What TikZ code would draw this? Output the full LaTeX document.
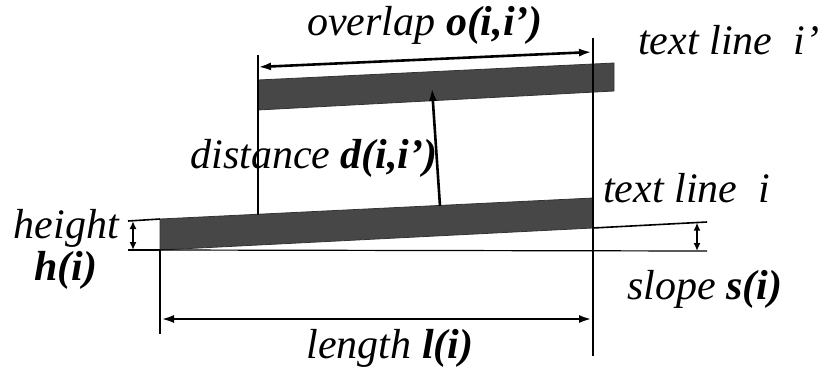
\documentclass[tikz,border=0pt]{standalone}
\usepackage{fontspec}
\setmainfont{Liberation Serif}
\usetikzlibrary{arrows.meta,positioning,calc}

\begin{document}
\begin{tikzpicture}[
  x=1pt, y=-1pt,
  >={Latex[length=13pt,width=8pt]},
  lbl/.style={font=\fontsize{42}{44}\selectfont\itshape, inner sep=0pt},
  bar/.style={fill=black!72, draw=black!80, line width=0.8pt},
  tick/.style={line width=1.6pt},
  dim/.style={<->, line width=2.6pt},
  small/.style={<->, line width=1.6pt, >={Latex[length=8pt,width=7pt]}},
]
\useasboundingbox (0,0) rectangle (836,368);
\def\fn#1{\textbf{#1}}

% ---- text lines --------------------------------------------------------------
\coordinate (lowTL) at (160,219); \coordinate (lowTR) at (593,198);
\coordinate (lowBR) at (593,228); \coordinate (lowBL) at (160,250);
\coordinate (upTL) at (258,80);   \coordinate (upTR) at (614,63);
\coordinate (upBR) at (614,91);   \coordinate (upBL) at (258,110);
\fill[bar] (lowTL) -- (lowTR) -- (lowBR) -- (lowBL) -- cycle;
\fill[bar] (upTL) -- (upTR) -- (upBR) -- (upBL) -- cycle;

% ---- extension lines ---------------------------------------------------------
\coordinate (ovL) at (258,67);  \coordinate (ovR) at (592,52);
\coordinate (lenL) at (161,319); \coordinate (lenR) at (592,319);
\draw[tick] (258,55) -- (258,215);
\draw[tick] (593,38) -- (593,356);
\draw[tick] (lowBL) -- (160,334);

% ---- overlap -----------------------------------------------------------------
\draw[dim] (ovL) -- (ovR);
\node[lbl] (overlap) at (425,25) {overlap \fn{o(i,i’)}};

% ---- distance ----------------------------------------------------------------
\coordinate (dB) at (440,206); \coordinate (dT) at (432,88);
\draw[line width=2.6pt, ->] (dB) -- (dT);
\node[lbl] (distance) at (314,158) {distance \fn{d(i,i’)}};

% ---- length ------------------------------------------------------------------
\draw[dim] (lenL) -- (lenR);
\node[lbl] (length) at (390,348) {length \fn{l(i)}};

% ---- height ------------------------------------------------------------------
\coordinate (hT) at (133,221); \coordinate (hB) at (133,250);
\draw[tick] (128,221) -- (lowTL);
\draw[tick] (128,250) -- (lowBL);
\draw[small] (hT) -- (hB);
\node[lbl, anchor=east] (height) at (119,228) {height};
\node[lbl] (hi) at (66,270) {\fn{h(i)}};

% ---- slope -------------------------------------------------------------------
\coordinate (sT) at (697,222.6); \coordinate (sB) at (697,251);
\draw[tick] (lowBR) -- (707,222);
\draw[line width=1.2pt] (lowBL) -- (707,251);
\draw[small] (sT) -- (sB);
\node[lbl, anchor=west] (slope) at (627,289) {slope \fn{s(i)}};

% ---- line labels ---------------------------------------------------------------
\node[lbl, anchor=west] (linei) at (603,188) {text line\enspace i};
\node[lbl, anchor=west] (lineip) at (638,40) {text line\enspace i’};
\end{tikzpicture}
\end{document}
